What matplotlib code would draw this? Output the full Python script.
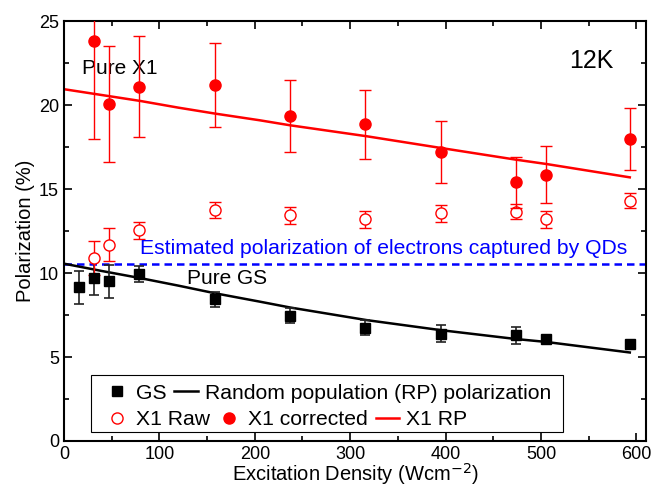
import numpy as np
import matplotlib.pyplot as plt
from matplotlib.lines import Line2D
from matplotlib.patches import Rectangle

plt.rcParams['font.family'] = ['Liberation Sans', 'DejaVu Sans']

# excitation densities (W cm^-2)
density = [16, 31, 47, 79, 158, 237, 316, 395, 474, 505, 593]

# ground state polarization (%)
gs = [9.15, 9.7, 9.5, 9.95, 8.45, 7.45, 6.75, 6.4, 6.3, 6.05, 5.8]
gs_err = [1.0, 1.0, 1.0, 0.5, 0.45, 0.45, 0.45, 0.5, 0.5, 0.0, 0.0]

# X1 data (skip first density)
x1_density = [31, 47, 79, 158, 237, 316, 395, 474, 505, 593]
x1_raw = [10.9, 11.7, 12.55, 13.75, 13.45, 13.2, 13.55, 13.65, 13.2, 14.3]
x1_raw_err = [1.0, 1.0, 0.5, 0.5, 0.5, 0.5, 0.5, 0.45, 0.5, 0.45]
x1_corr = [23.8, 20.05, 21.1, 21.2, 19.35, 18.85, 17.2, 15.4, 15.85, 18.0]
x1_corr_err = [5.8, 3.45, 3.0, 2.5, 2.15, 2.05, 1.85, 1.5, 1.7, 1.85]

# random population model curves
rp_x = [0, 40, 80, 120, 158, 205, 237, 317, 395, 474, 505, 593]
rp_gs = [10.56, 10.12, 9.7, 9.25, 8.8, 8.3, 7.95, 7.2, 6.6, 6.07, 5.9, 5.27]
rp_x1 = [20.95, 20.6, 20.25, 19.85, 19.5, 19.1, 18.8, 18.15, 17.45, 16.75, 16.5, 15.7]

electron_pol = 10.56

fig = plt.figure(figsize=(6.66, 4.87), dpi=100)
ax = fig.add_axes([0.096, 0.0945, 0.874, 0.862])

red = '#ff0000'

ax.axhline(electron_pol, color='#0000ff', ls=(0, (3, 2)), lw=1.8, zorder=1)

ax.plot(rp_x, rp_gs, color='black', lw=1.8, zorder=2)
ax.plot(rp_x, rp_x1, color=red, lw=1.8, zorder=2)

ax.errorbar(density, gs, yerr=gs_err, fmt='s', color='black', ms=7,
            ecolor='#222222', elinewidth=1.2, capsize=3.5, capthick=1.2, zorder=3)
ax.errorbar(x1_density, x1_raw, yerr=x1_raw_err, fmt='o', mfc='white',
            mec=red, color=red, ms=8, mew=1.0, elinewidth=1.0, capsize=4,
            capthick=1.0, zorder=3)
ax.errorbar(x1_density, x1_corr, yerr=x1_corr_err, fmt='o', color=red,
            ms=8, elinewidth=1.0, capsize=4, capthick=1.0, zorder=4)

ax.set_xlim(0, 610)
ax.set_ylim(0, 25)
ax.set_xticks([0, 100, 200, 300, 400, 500, 600])
ax.set_xticks(np.arange(50, 610, 100), minor=True)
ax.set_yticks([0, 5, 10, 15, 20, 25])
ax.set_yticks(np.arange(2.5, 25, 5), minor=True)
ax.tick_params(which='both', direction='in', top=True, right=True,
               labelsize=13, width=1.2)
ax.tick_params(which='major', length=6)
ax.tick_params(which='minor', length=3.5)
for s in ax.spines.values():
    s.set_linewidth(1.5)

ax.set_xlabel('Excitation Density (Wcm$^{-2}$)', fontsize=14.5, labelpad=-1)
ax.set_ylabel('Polarization (%)', fontsize=14.5, labelpad=3)

ax.text(19, 22.2, 'Pure X1', fontsize=15, va='center')
ax.text(576, 22.6, '12K', fontsize=18, va='center', ha='right')
ax.text(80, 11.45, 'Estimated polarization of electrons captured by QDs',
        fontsize=15.2, color='#0000ff', va='center')
ax.text(129, 9.65, 'Pure GS', fontsize=15, va='center')

# legend: two rows with a common frame
ax.add_patch(Rectangle((0.046, 0.021), 0.811, 0.136, transform=ax.transAxes,
                       fill=False, edgecolor='black', lw=0.8, zorder=5))
h1 = [Line2D([], [], marker='s', ls='none', color='black', ms=7),
      Line2D([], [], color='black', lw=1.8)]
leg1 = ax.legend(h1, ['GS', 'Random population (RP) polarization'],
                 ncol=2, frameon=False, fontsize=15.2, loc='center left',
                 bbox_to_anchor=(0.072, 0.114), handlelength=1.1,
                 handletextpad=0.35, columnspacing=0.35, borderpad=0,
                 borderaxespad=0)
ax.add_artist(leg1)
h2 = [Line2D([], [], marker='o', ls='none', mfc='white', mec=red, ms=8),
      Line2D([], [], marker='o', ls='none', color=red, ms=8),
      Line2D([], [], color=red, lw=1.8)]
ax.legend(h2, ['X1 Raw', 'X1 corrected', 'X1 RP'], ncol=3, frameon=False,
          fontsize=15.2, loc='center left', bbox_to_anchor=(0.072, 0.05),
          handlelength=1.1, handletextpad=0.35, columnspacing=0.35,
          borderpad=0, borderaxespad=0)

fig.savefig('out.png', dpi=100)
